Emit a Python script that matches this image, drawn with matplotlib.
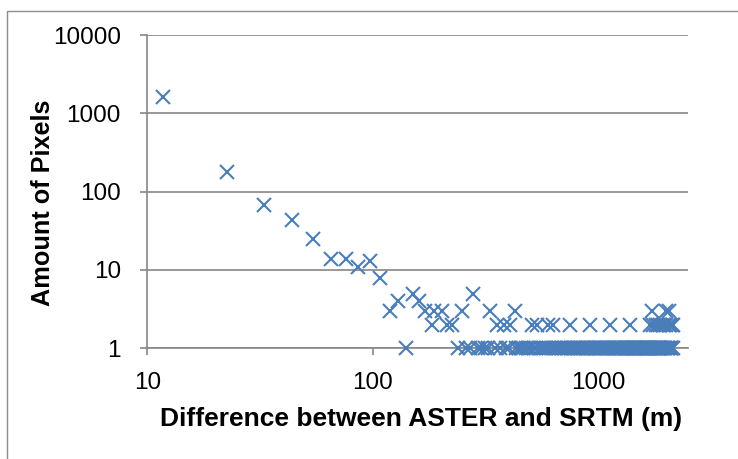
import matplotlib
matplotlib.use("Agg")
import matplotlib.pyplot as plt
from matplotlib.lines import Line2D
from matplotlib.ticker import NullLocator

plt.rcParams['font.family'] = ['Liberation Sans', 'DejaVu Sans']

# pixel counts per height-difference bin (about 10.8 m wide)
diff_head = [11.7, 22.5, 33, 44, 54, 65, 76, 86, 97, 108, 119, 129, 140, 151, 160,
             170, 182, 186, 202, 212, 223, 247, 278, 330, 353, 381, 405, 426, 505,
             535, 598, 630, 746, 915, 1122, 1375]
count_head = [1600, 180, 68, 44, 25, 14, 14, 11, 13, 8, 3, 4, 1, 5, 4,
              3, 2, 3, 3, 2, 2, 3, 5, 3, 2, 2, 2, 3, 2,
              2, 2, 2, 2, 2, 2, 2]

# bins holding a single pixel
diff_single = [238, 259, 270, 292, 302, 313, 324, 346, 367, 389, 400, 432, 443, 454,
               464, 475, 486, 497, 518, 529, 551, 562, 572, 583, 605, 616, 637, 648,
               659, 670, 680, 691, 702, 713, 724, 734, 756, 767, 778, 788, 799, 810,
               821, 832, 842, 853, 864, 875, 886, 896, 907, 929, 940, 950, 961, 972,
               983, 994, 1004, 1015, 1026, 1037, 1048, 1058, 1069, 1080, 1091, 1102,
               1112, 1134, 1145, 1156, 1166, 1177, 1188, 1199, 1210, 1220, 1231, 1242,
               1253, 1264, 1274, 1285, 1296, 1307, 1318, 1328, 1339, 1350, 1361, 1382,
               1393, 1404, 1415, 1426, 1436, 1447, 1458, 1469, 1480, 1490, 1501, 1512,
               1523, 1534, 1544, 1555, 1566, 1577, 1588, 1598, 1609, 1620, 1631, 1642,
               1652, 1663, 1674, 1696, 1706, 1728, 1739, 1760, 1771, 1782, 1804, 1814,
               1825, 1847, 1858, 1868, 1890, 1901, 1912, 1933, 1944, 1966, 1976, 2009,
               2020, 2030, 2063, 2084, 2095, 2117, 2138]

# upper end of the distribution
diff_tail = [1685, 1717, 1750, 1793, 1836, 1879, 1922, 1955, 1987, 1998, 2041, 2052,
             2074, 2106, 2128]
count_tail = [2, 3, 2, 2, 2, 2, 2, 2, 2, 3, 2, 3, 2, 2, 2]

x_ticks = [10, 100, 1000]
y_ticks = [1, 10, 100, 1000, 10000]

diffs = diff_head + diff_single + diff_tail
counts = count_head + [1] * len(diff_single) + count_tail

W, H = 738, 459
grey = '#868686'
fig = plt.figure(figsize=(W / 100, H / 100), dpi=100)
ax = fig.add_axes([147.3 / W, 1 - 348.3 / H, (688 - 147.3) / W, (348.3 - 35) / H])
ax.set_xscale('log'); ax.set_yscale('log')
ax.set_xlim(10, 2490); ax.set_ylim(1, 10000)

ax.plot(diffs, counts, ls='none', marker='x', ms=9.5, mew=1.5, color='#4a7ebb',
        clip_on=False, zorder=3)

ax.yaxis.grid(True, which='major', color=grey, lw=1.2)
ax.set_axisbelow(True)
for s in ['top', 'right']: ax.spines[s].set_visible(False)
for s in ['left', 'bottom']: ax.spines[s].set_color(grey); ax.spines[s].set_linewidth(1.2)

ax.set_xticks(x_ticks); ax.set_xticklabels([str(v) for v in x_ticks])
ax.set_yticks(y_ticks); ax.set_yticklabels([str(v) for v in y_ticks])
ax.xaxis.set_minor_locator(NullLocator()); ax.yaxis.set_minor_locator(NullLocator())
ax.tick_params(axis='both', direction='out', length=5, width=1.2, color=grey, labelsize=17.5)
ax.tick_params(axis='y', pad=14)
ax.tick_params(axis='x', pad=12)

fig.text(43 / W, 1 - 203 / H, "Amount of Pixels", rotation=90, ha='center', va='center',
         fontsize=18.2, fontweight='bold')
fig.text(421.5 / W, 1 - 419 / H, "Difference between ASTER and SRTM (m)", ha='center',
         va='center', fontsize=19, fontweight='bold')

# surrounding frame
fig.add_artist(Line2D([7 / W, 7 / W, 1], [0, 1 - 10.7 / H, 1 - 10.7 / H],
                      transform=fig.transFigure, color='#8c8c8c', lw=1))

fig.savefig("out.png", dpi=100)
